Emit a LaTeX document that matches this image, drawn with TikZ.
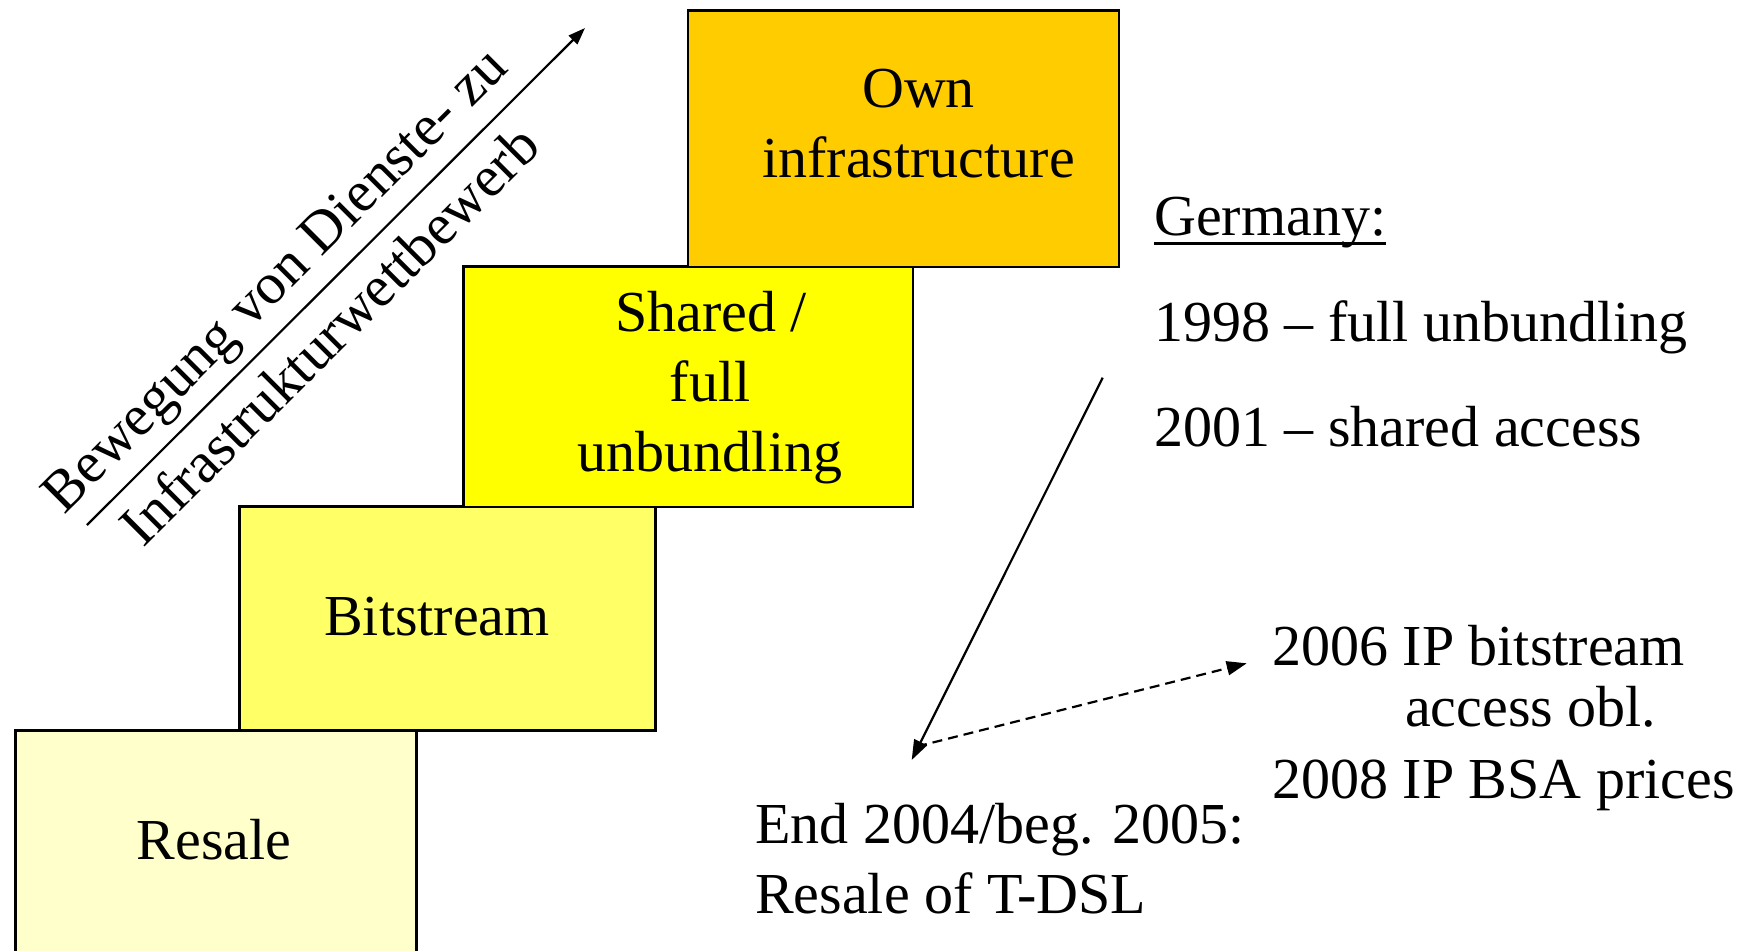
\documentclass[tikz,border=0pt]{standalone}
\usepackage{fontspec}
\setmainfont{Liberation Serif}
\usetikzlibrary{arrows.meta}
\definecolor{ownc}{HTML}{FFCC00}
\definecolor{sharedc}{HTML}{FFFF00}
\definecolor{bitc}{HTML}{FFFF66}
\definecolor{resalec}{HTML}{FFFFCC}
\begin{document}
\begin{tikzpicture}[x=1pt,y=-1pt,
  box/.style={draw=black, line width=2.5pt, rectangle, inner sep=0pt, anchor=north west},
  lbl/.style={font=\fontsize{58}{70}\selectfont, anchor=base, inner sep=0pt},
  lbll/.style={lbl, anchor=base west},
  conn/.style={line width=2.2pt, -{Triangle[length=20pt,width=14pt]}},
  dconn/.style={line width=2.2pt, dash pattern=on 10pt off 6pt, -{Triangle[length=20pt,width=14pt]}}]
\useasboundingbox (0,0) rectangle (1755,950);
% boxes
\node[box, fill=resalec, minimum width=401pt, minimum height=241pt] (resale) at (14,729) {};
\node[box, fill=bitc, minimum width=415.7pt, minimum height=224pt] (bit) at (238.3,505) {};
\node[box, fill=sharedc, minimum width=449.7pt, minimum height=240.7pt] (shared) at (462,265) {};
\node[box, fill=ownc, minimum width=431pt, minimum height=256.4pt] (own) at (686.7,9.3) {};
% box texts
\node[lbl] (own1) at (918.5,107.3) {Own};
\node[lbl] (own2) at (918.5,177.3) {infrastructure};
\node[lbl] (sh1) at (711,331.7) {Shared /};
\node[lbl] (sh2) at (710,401.7) {full};
\node[lbl] (sh3) at (710,471.7) {unbundling};
\node[lbll] (bit1) at (324,635.7) {Bitstream};
\node[lbl] (res1) at (214,859) {Resale};
% diagonal
\coordinate (d0) at (87,525);
\coordinate (d1) at (585,28);
\draw[line width=2.2pt, -{Triangle[length=17pt,width=12pt]}] (d0) -- (d1);
\node[lbl, anchor=center, rotate=45] (dtop) at (278,283.5) {Bewegung von Dienste- zu};
\node[lbl, anchor=center, rotate=45] (dbot) at (329,334.5) {Infrastrukturwettbewerb};
% Germany
\node[lbll] (ger) at (1154,235.7) {Germany:};
\draw[line width=3pt] ([yshift=-8pt]ger.base west) -- ([yshift=-8pt]ger.base east);
\node[lbll] (g1) at (1154,341.7) {1998 – full unbundling};
\node[lbll] (g2) at (1154,446.7) {2001 – shared access};
\node[lbll] (b1) at (1272,665) {2006 IP bitstream};
\node[lbll] (b2) at (1405,726.7) {access obl.};
\node[lbll] (b3) at (1272,798.3) {2008 IP BSA prices};
\node[lbll] (e1) at (755,843.3) {End 2004/beg. 2005:};
\node[lbll] (e2) at (755,913.3) {Resale of T-DSL};
% arrows
\coordinate (s0) at (1102.7,377.7);
\coordinate (s1) at (911.7,760);
\draw[conn] (s0) -- (s1);
\coordinate (t0) at (917,746.5);
\coordinate (t1) at (1246.7,663.3);
\draw[dconn] (t0) -- (t1);
\end{tikzpicture}
\end{document}
